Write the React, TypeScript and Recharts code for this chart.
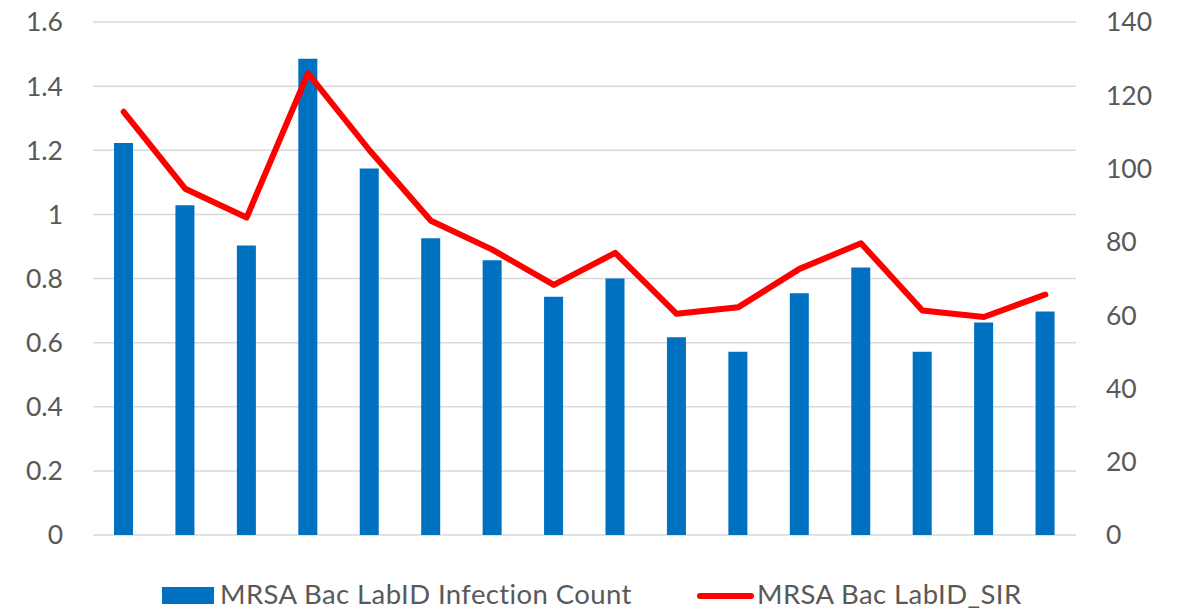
import { ComposedChart, Bar, Line, XAxis, YAxis, CartesianGrid, Legend } from "recharts";

const periods = [
  "P1", "P2", "P3", "P4", "P5", "P6", "P7", "P8",
  "P9", "P10", "P11", "P12", "P13", "P14", "P15", "P16",
];
const infectionCount = [107, 90, 79, 130, 100, 81, 75, 65, 70, 54, 50, 66, 73, 50, 58, 61];
const labIdSir = [1.32, 1.08, 0.99, 1.44, 1.2, 0.98, 0.89, 0.78, 0.88, 0.69, 0.71, 0.83, 0.91, 0.7, 0.68, 0.75];
const sirTicks = [0, 0.2, 0.4, 0.6, 0.8, 1, 1.2, 1.4, 1.6];
const countTicks = [0, 20, 40, 60, 80, 100, 120, 140];

const BLUE = "#0070C0";
const RED = "#FF0000";
const TEXT = "#595959";
const FONT = "Lato, 'Open Sans', sans-serif";

const data = periods.map((name, i) => ({
  name,
  count: infectionCount[i],
  sir: labIdSir[i],
}));

// legend drawn in svg so the baseline is exact
function ChartLegend() {
  const textStyle = { fontFamily: FONT, fontSize: 27.5, letterSpacing: 0.4 };
  return (
    <svg width={1181} height={75} style={{ display: "block" }}>
      <rect x={162} y={52} width={52} height={17} fill={BLUE} />
      <text x={220} y={69} fill={TEXT} style={textStyle}>
        MRSA Bac LabID Infection Count
      </text>
      <line x1={700} y1={61} x2={751} y2={61} stroke={RED} strokeWidth={6} strokeLinecap="round" />
      <text x={757} y={69} fill={TEXT} style={textStyle}>
        MRSA Bac LabID_SIR
      </text>
    </svg>
  );
}

export default function App() {
  const tickStyle = { fontSize: 26.5, fill: TEXT, fontFamily: FONT };
  return (
    <div style={{ position: "absolute", left: 0, top: 0, background: "#fff" }}>
      <ComposedChart width={1181} height={610} data={data} margin={{ top: 22, right: 0, bottom: 0, left: 0 }}>
        <CartesianGrid yAxisId="left" vertical={false} stroke="#D9D9D9" strokeWidth={1.5} />
        <XAxis dataKey="name" hide />
        <YAxis
          yAxisId="left"
          domain={[0, 1.6]}
          ticks={sirTicks}
          width={93}
          tick={tickStyle}
          tickLine={false}
          axisLine={false}
          tickSize={0}
          tickMargin={30}
          tickFormatter={(v: number) => String(v)}
        />
        <YAxis
          yAxisId="right"
          orientation="right"
          domain={[0, 140]}
          ticks={countTicks}
          width={105}
          tick={{ ...tickStyle, textAnchor: "start" }}
          tickLine={false}
          axisLine={false}
          tickSize={0}
          tickMargin={30}
        />
        <Legend verticalAlign="bottom" height={75} content={() => <ChartLegend />} />
        <Bar
          yAxisId="right"
          dataKey="count"
          name="MRSA Bac LabID Infection Count"
          fill={BLUE}
          barSize={19}
          isAnimationActive={false}
        />
        <Line
          yAxisId="left"
          type="linear"
          dataKey="sir"
          name="MRSA Bac LabID_SIR"
          stroke={RED}
          strokeWidth={6}
          strokeLinecap="round"
          strokeLinejoin="round"
          dot={false}
          activeDot={false}
          isAnimationActive={false}
        />
      </ComposedChart>
    </div>
  );
}
